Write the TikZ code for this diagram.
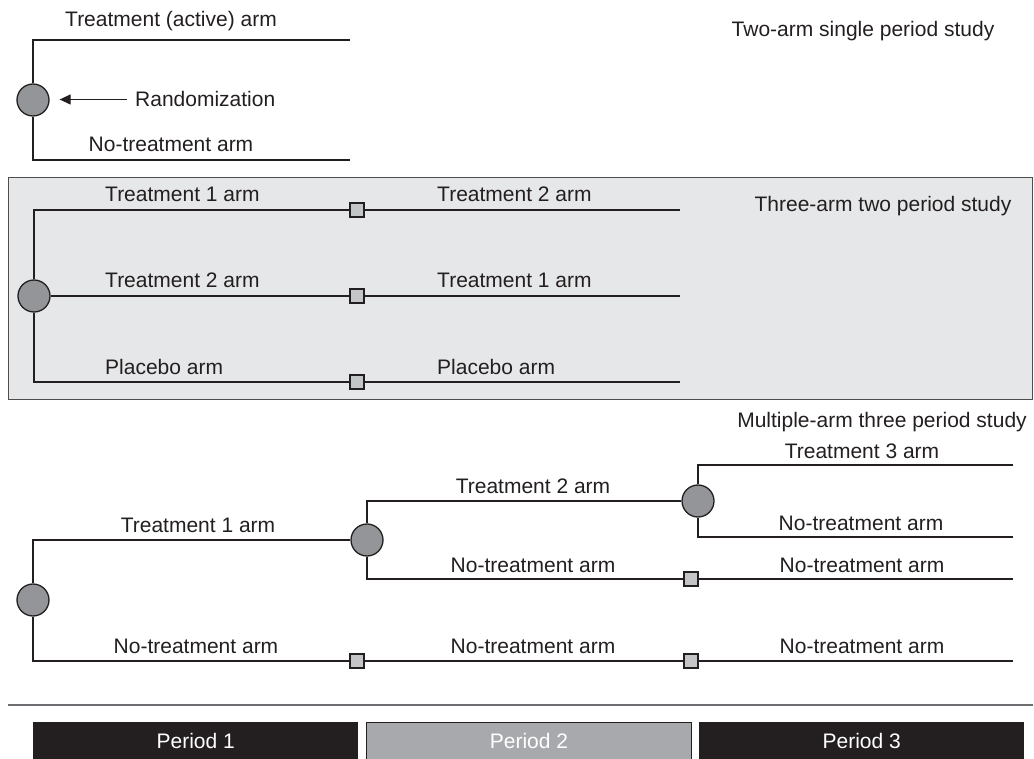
\documentclass[tikz,border=0pt]{standalone}
\usepackage{fontspec}
\setmainfont{Liberation Sans}
\usetikzlibrary{positioning, arrows.meta, calc}
\definecolor{ink}{HTML}{231F20}
\definecolor{panelfill}{HTML}{E6E7E8}
\definecolor{panelstroke}{HTML}{4D4D4D}
\definecolor{dotfill}{HTML}{939598}
\definecolor{boxfill}{HTML}{C4C5C7}
\definecolor{barmid}{HTML}{A7A9AC}
\definecolor{rulegray}{HTML}{6D6E71}

\begin{document}
\begin{tikzpicture}[
  x=1pt, y=-1pt,
  every node/.style={font=\fontsize{21}{25}\selectfont, text=ink},
  >={Triangle[length=11pt, width=10pt]},
  rnd/.style={
    circle, draw=ink, line width=1.3pt, fill=dotfill,
    minimum size=32pt, inner sep=0pt
  },
  wash/.style={
    rectangle, draw=ink, line width=1.1pt, fill=boxfill,
    minimum size=14pt, inner sep=0pt
  },
  panel/.style={
    rectangle, draw=panelstroke, line width=1.2pt, fill=panelfill,
    minimum width=1024pt, minimum height=222pt, inner sep=0pt, anchor=north west
  },
  bar/.style={
    fill=ink, text=white, minimum width=325pt, minimum height=37pt,
    inner sep=0pt, anchor=north west
  },
  arm/.style={line width=1.3pt, draw=ink},
  lbl/.style={anchor=base, inner sep=0pt},
  lblw/.style={anchor=base west, inner sep=0pt},
  ptr/.style={->, line width=1.3pt, draw=ink}
]
\useasboundingbox (0,0) rectangle (1034,759);

% Two-arm single period study
\node[rnd] (rand1) at (33,100) {};
\coordinate (end11) at (350,40);
\coordinate (end12) at (350,160);
\draw[arm] (rand1.north) |- (end11);
\draw[arm] (rand1.south) |- (end12);
\node[lbl] (lab11) at (171,27) {Treatment (active) arm};
\node[lbl] (lab12) at (171,152) {No-treatment arm};
\node[lblw] (randlab) at (135,107) {Randomization};
\draw[ptr, shorten >=10pt] ([xshift=-8pt]randlab.west) -- (rand1.east |- randlab.west);
\node[lbl] (title1) at (863,37) {Two-arm single period study};

% Three-arm two period study
\node[panel] (pnl) at (8,177) {};
\node[rnd] (rand2) at (34,296) {};
\node[wash] (sq21) at (357,210) {};
\node[wash] (sq22) at (357,296) {};
\node[wash] (sq23) at (357,382) {};
\coordinate (end21) at (680,210);
\coordinate (end22) at (680,296);
\coordinate (end23) at (680,382);
\draw[arm] (rand2.north) |- (sq21);
\draw[arm] (rand2) -- (sq22);
\draw[arm] (rand2.south) |- (sq23);
\draw[arm] (sq21) -- (end21);
\draw[arm] (sq22) -- (end22);
\draw[arm] (sq23) -- (end23);
\node[lblw] (lab21) at (105,202) {Treatment 1 arm};
\node[lblw] (lab22) at (105,288) {Treatment 2 arm};
\node[lblw] (lab23) at (105,375) {Placebo arm};
\node[lblw] (lab24) at (437,202) {Treatment 2 arm};
\node[lblw] (lab25) at (437,288) {Treatment 1 arm};
\node[lblw] (lab26) at (437,375) {Placebo arm};
\node[lbl] (title2) at (883,212) {Three-arm two period study};

% Multiple-arm three period study
\node[rnd] (rand3) at (33,600) {};
\node[rnd] (rand4) at (367,540) {};
\node[rnd] (rand5) at (698,501) {};
\node[wash] (sq31) at (357,661) {};
\node[wash] (sq32) at (691,661) {};
\node[wash] (sq41) at (691,579) {};
\coordinate (end31) at (1013,661);
\coordinate (end41) at (1013,579);
\coordinate (end51) at (1013,465);
\coordinate (end52) at (1013,537);
\draw[arm] (rand3.north) |- (rand4);
\draw[arm] (rand3.south) |- (sq31);
\draw[arm] (sq31) -- (sq32);
\draw[arm] (sq32) -- (end31);
\draw[arm] (rand4.north) |- (rand5);
\draw[arm] (rand4.south) |- (sq41);
\draw[arm] (sq41) -- (end41);
\draw[arm] (rand5.north) |- (end51);
\draw[arm] (rand5.south) |- (end52);
\node[lbl] (lab31) at (198,532) {Treatment 1 arm};
\node[lbl] (lab32) at (196,653) {No-treatment arm};
\node[lbl] (lab33) at (533,493) {Treatment 2 arm};
\node[lbl] (lab34) at (533,572) {No-treatment arm};
\node[lbl] (lab35) at (533,653) {No-treatment arm};
\node[lbl] (lab36) at (862,458) {Treatment 3 arm};
\node[lbl] (lab37) at (861,530) {No-treatment arm};
\node[lbl] (lab38) at (862,572) {No-treatment arm};
\node[lbl] (lab39) at (862,653) {No-treatment arm};
\node[lbl] (title3) at (882,428) {Multiple-arm three period study};

% Periods
\coordinate (rulel) at (8,705);
\coordinate (ruler) at (1033,705);
\draw[line width=2.5pt, draw=rulegray] (rulel) -- (ruler);
\node[bar] (per1) at (33,722) {Period 1};
\node[bar, fill=barmid, draw=ink, line width=1pt] (per2) at (366,722) {Period 2};
\node[bar] (per3) at (699,722) {Period 3};

\end{tikzpicture}
\end{document}
